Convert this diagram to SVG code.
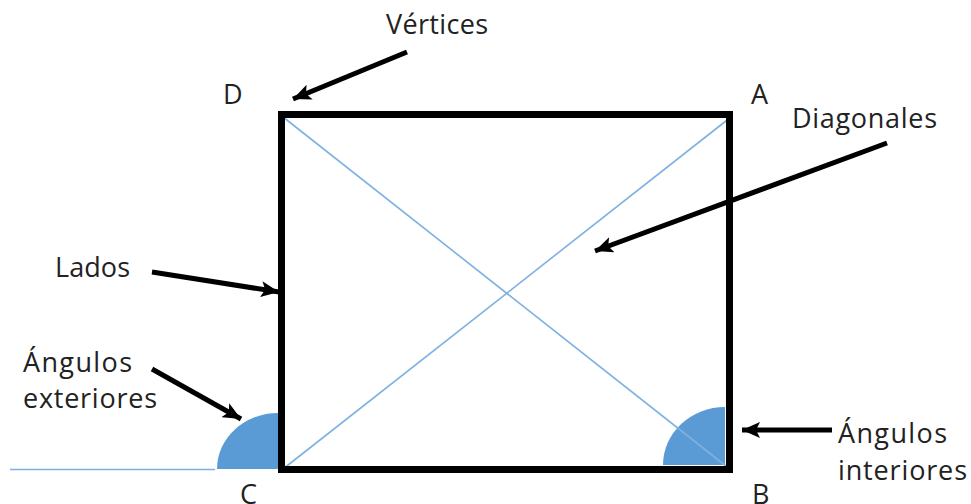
<svg xmlns="http://www.w3.org/2000/svg" width="971" height="504" viewBox="0 0 971 504">
<defs>
<style>
text{font-family:"Open Sans","Liberation Sans",Arial,sans-serif;font-size:27px;fill:#222}
.diag{stroke:#7eb1e0;stroke-width:1.6;fill:none}
.ang{fill:#5b9bd5}
.arr{stroke:#000;stroke-width:5;fill:none;marker-end:url(#ah)}
</style>
<marker id="ah" markerUnits="userSpaceOnUse" markerWidth="20" markerHeight="16" refX="18" refY="8" orient="auto">
<path d="M0,0 L18,8 L0,16 L4,8 Z" fill="#000"/>
</marker>
</defs>
<rect width="971" height="504" fill="#fff"/>
<g id="angles">
<path class="ang" d="M278 469 L217 469 A61 56 0 0 1 278 413 Z"/>
<path class="ang" d="M725 465 L663 465 A62 58 0 0 1 725 407 Z"/>
</g>
<g id="diagonals">
<line class="diag" x1="10" y1="469.5" x2="215" y2="469.5"/>
<line class="diag" x1="283" y1="117" x2="731" y2="470"/>
<line class="diag" x1="283" y1="469" x2="731" y2="117"/>
</g>
<g id="square">
<rect x="281.5" y="114.5" width="448" height="355" fill="none" stroke="#000" stroke-width="7"/>
</g>
<g id="vertex-labels">
<text x="223" y="104">D</text>
<text x="751" y="104">A</text>
<text x="240" y="504">C</text>
<text x="752" y="504">B</text>
</g>
<g id="labels">
<text x="386" y="34" textLength="102">Vértices</text>
<text x="792" y="128" textLength="145">Diagonales</text>
<text x="55" y="277" textLength="75">Lados</text>
<text x="23" y="372" textLength="109">Ángulos</text>
<text x="23" y="408" textLength="134">exteriores</text>
<text x="838" y="443" textLength="109">Ángulos</text>
<text x="838" y="480" textLength="129">interiores</text>
</g>
<g id="connectors">
<line class="arr" x1="407" y1="52" x2="293" y2="99"/>
<line class="arr" x1="887" y1="143" x2="595" y2="251"/>
<line class="arr" x1="152" y1="272" x2="279" y2="292"/>
<line class="arr" x1="152" y1="369" x2="241" y2="419"/>
<line class="arr" x1="832" y1="430" x2="742" y2="430"/>
</g>
</svg>
